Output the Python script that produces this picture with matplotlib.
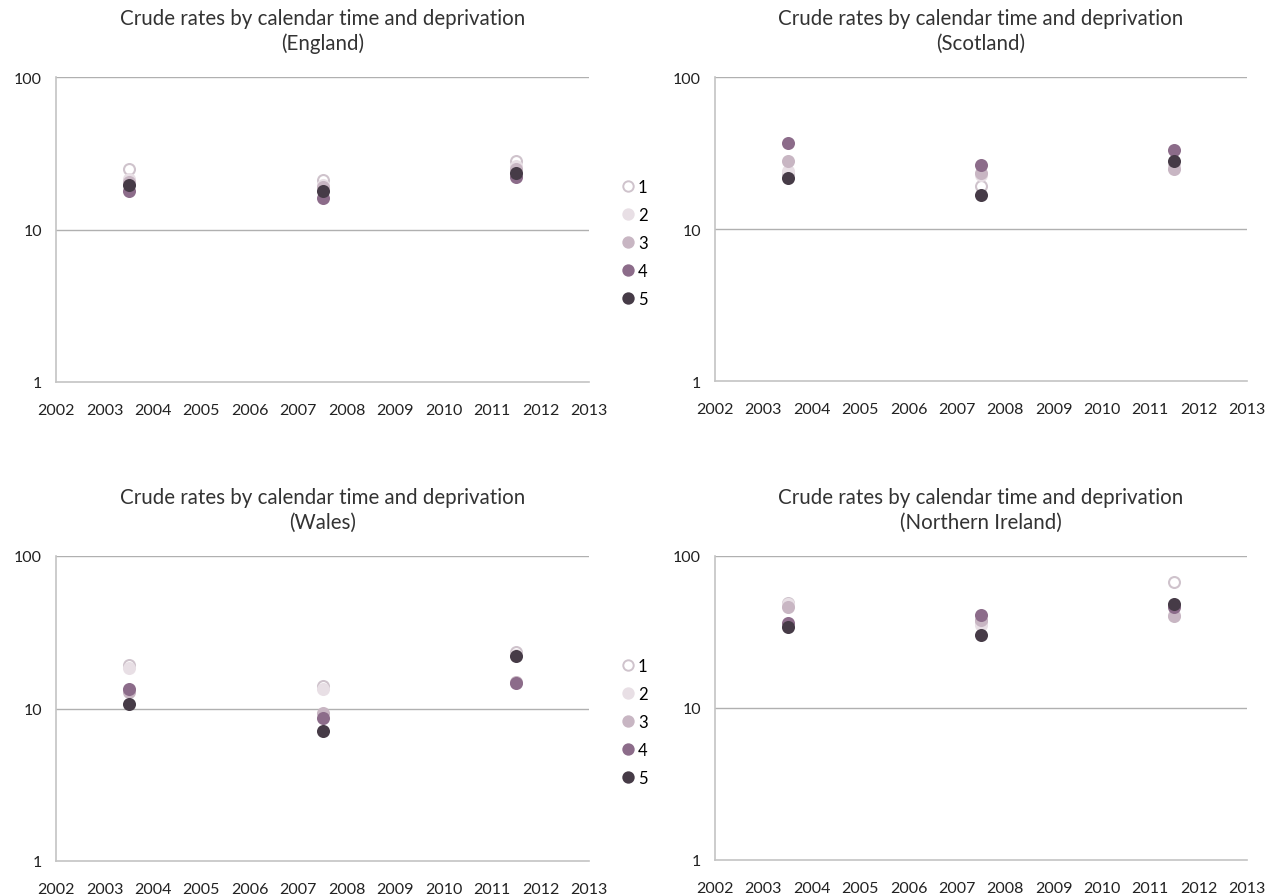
import matplotlib
matplotlib.use("Agg")
import matplotlib.pyplot as plt
from matplotlib.lines import Line2D

plt.rcParams['font.family'] = ['Lato', 'DejaVu Sans']

years = [2003.5, 2007.5, 2011.5]
groups = ["1", "2", "3", "4", "5"]

england = {
    "1": [25.0, 21.0, 28.0],
    "2": [21.5, 19.5, 26.0],
    "3": [20.5, 19.0, 25.0],
    "4": [17.8, 16.2, 22.0],
    "5": [19.7, 17.8, 23.3],
}
scotland = {
    "1": [23.0, 19.3, 26.0],
    "2": [24.0, 22.5, 25.5],
    "3": [28.0, 23.5, 25.0],
    "4": [37.0, 26.5, 33.0],
    "5": [21.5, 16.8, 28.0],
}
wales = {
    "1": [19.2, 14.0, 23.5],
    "2": [18.5, 13.5, 22.5],
    "3": [12.8, 9.3, 15.0],
    "4": [13.5, 8.6, 14.8],
    "5": [10.7, 7.1, 22.0],
}
nireland = {
    "1": [49.0, 37.0, 67.0],
    "2": [48.0, 35.0, 41.0],
    "3": [46.0, 38.0, 40.0],
    "4": [36.0, 41.0, 46.5],
    "5": [34.0, 30.0, 48.5],
}

panels = [
    ("England", england, True),
    ("Scotland", scotland, False),
    ("Wales", wales, True),
    ("Northern Ireland", nireland, False),
]

face = {"1": "white", "2": "#e8dfe5", "3": "#c8b6c3", "4": "#8c6c8a", "5": "#463b47"}
edge = {"1": "#cfc3cc", "2": "#e8dfe5", "3": "#c8b6c3", "4": "#8c6c8a", "5": "#463b47"}

W, H = 1278, 895
fig = plt.figure(figsize=(W / 100, H / 100), dpi=100)

boxes = [
    (56, 589, 78, 383),
    (715, 1247, 78, 382),
    (56, 589, 557, 862),
    (715, 1247, 557, 861),
]

xticks = list(range(2002, 2014))

for (name, data, show_leg), (l, r, t, b) in zip(panels, boxes):
    ax = fig.add_axes([l / W, 1 - b / H, (r - l) / W, (b - t) / H])
    for g in groups:
        ax.scatter(years, data[g], s=62, facecolor=face[g], edgecolor=edge[g],
                   linewidth=1.5, zorder=3 + int(g), clip_on=False)
    ax.set_yscale('log')
    ax.set_ylim(1, 100)
    ax.set_xlim(2002, 2013)
    ax.set_yticks([1, 10, 100])
    ax.set_yticklabels(["1", "10", "100"])
    ax.yaxis.set_minor_locator(matplotlib.ticker.NullLocator())
    ax.set_xticks(xticks)
    ax.set_xticklabels([str(x) for x in xticks])
    ax.tick_params(axis='y', length=0, labelsize=11.5, colors='#222222', pad=10)
    ax.tick_params(axis='x', length=0, labelsize=11.5, colors='#222222', pad=15)
    for sp in ['top', 'right']:
        ax.spines[sp].set_visible(False)
    for sp in ['left', 'bottom']:
        ax.spines[sp].set_color('#c4c4c4')
        ax.spines[sp].set_linewidth(1.2)
    for yv in [10, 100]:
        ax.axhline(yv, color='#b0b0b0', linewidth=1.0, zorder=1)
    ax.set_title("Crude rates by calendar time and deprivation\n(" + name + ")",
                 fontsize=14.8, color='#333333', pad=20, linespacing=1.3)
    if show_leg:
        handles = [Line2D([0], [0], marker='o', linestyle='none', markersize=7.5,
                          markerfacecolor=face[g], markeredgecolor=edge[g],
                          markeredgewidth=1.4) for g in groups]
        ax.legend(handles, groups, loc='center left', bbox_to_anchor=(1.026, 0.455),
                  frameon=False, fontsize=12, handletextpad=0.1,
                  labelspacing=0.72, borderaxespad=0.6, handlelength=1.0)

fig.savefig("out.png", dpi=100, facecolor='white')
